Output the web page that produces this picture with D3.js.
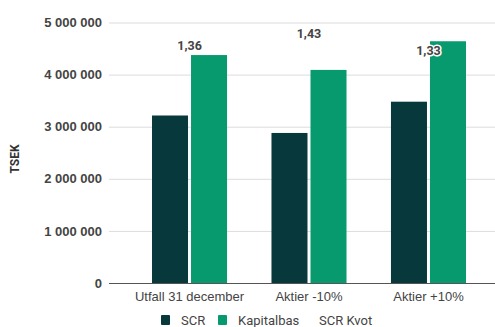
<!DOCTYPE html>
<html>
<head>
<meta charset="utf-8">
<script src="https://cdn.jsdelivr.net/npm/d3@7"></script>
<style>
body{margin:0;background:#fff;}
svg{font-family:Roboto,"Liberation Sans",sans-serif;}
</style>
</head>
<body>
<svg id="chart" width="495" height="327"></svg>
<script>
// data
var categories=["Utfall 31 december","Aktier -10%","Aktier +10%"];
var scr=[3215000,2880000,3480000];
var kapitalbas=[4375000,4090000,4640000];
var kvot=[1.36,1.43,1.33];
var kvotLabels=["1,36","1,43","1,33"];
var yTicks=[0,1000000,2000000,3000000,4000000,5000000];
var seriesNames=["SCR","Kapitalbas","SCR Kvot"];
var colors={SCR:"#07393c",Kapitalbas:"#069a6e"};

var svg=d3.select("#chart");
var plotLeft=109,plotRight=495,plotTop=22.5,plotBottom=283;

//band range runs past the right edge, the last group sits close to it
var x=d3.scaleBand().domain(categories).range([plotLeft,509]).paddingInner(0.372).paddingOuter(0.36);
var xs=d3.scaleBand().domain(["SCR","Kapitalbas"]).range([0,x.bandwidth()]).paddingInner(0.077);
var y=d3.scaleLinear().domain([0,5000000]).range([plotBottom,plotTop]);
var y2=d3.scaleLinear().domain([0,1.52]).range([plotBottom,plotTop]); //hidden axis for kvot

var fmt=function(d){return d3.format(",")(d).replace(/,/g," ");};

// grid + y axis
var yAxis=d3.axisLeft(y).tickValues(yTicks).tickFormat(fmt).tickSize(-(plotRight-plotLeft)).tickPadding(8);
var ga=svg.append("g").attr("transform","translate("+plotLeft+",0)").call(yAxis);
ga.select(".domain").remove();
ga.selectAll(".tick line").attr("stroke","#dcdcdc").attr("stroke-width",1);
ga.selectAll(".tick text").attr("fill","#444").style("font-size","13px").style("font-weight","bold").attr("x",-7);

// bars
var groups=svg.append("g").selectAll("g").data(categories).enter().append("g")
	.attr("transform",function(d){return "translate("+x(d)+",0)";});
groups.append("rect")
	.attr("x",xs("SCR")).attr("width",xs.bandwidth())
	.attr("y",function(d,i){return y(scr[i]);})
	.attr("height",function(d,i){return plotBottom-y(scr[i]);})
	.attr("fill",colors.SCR);
groups.append("rect")
	.attr("x",xs("Kapitalbas")).attr("width",xs.bandwidth())
	.attr("y",function(d,i){return y(kapitalbas[i]);})
	.attr("height",function(d,i){return plotBottom-y(kapitalbas[i]);})
	.attr("fill",colors.Kapitalbas);

// baseline
svg.append("line").attr("x1",plotLeft).attr("x2",plotRight).attr("y1",y(0)+0.5).attr("y2",y(0)+0.5).attr("stroke","#555").attr("stroke-width",1);

// x axis labels
var xAxis=d3.axisBottom(x).tickSize(0).tickPadding(9);
var gx=svg.append("g").attr("transform","translate(0,"+plotBottom+")").call(xAxis);
gx.select(".domain").remove();
gx.selectAll(".tick text").attr("fill","#444").style("font-size","13px");

// kvot labels
svg.append("g").selectAll("text").data(kvot).enter().append("text")
	.attr("x",function(d,i){return x(categories[i])+x.bandwidth()/2;})
	.attr("y",function(d){return y2(d)-4;})
	.attr("dy","0.35em")
	.attr("text-anchor","middle")
	.attr("fill","#444").style("font-size","12.5px").style("font-weight","bold")
	.attr("stroke","#fff").attr("stroke-width",3).attr("paint-order","stroke")
	.text(function(d,i){return kvotLabels[i];});

// y title
svg.append("text").attr("transform","translate(19,159) rotate(-90)")
	.attr("text-anchor","middle").attr("fill","#333")
	.style("font-size","12px").style("font-weight","bold").text("TSEK");

// legend
var legend=svg.append("g").attr("transform","translate(0,320)");
var lx=[161,218,319];
seriesNames.forEach(function(n,i){
	var tx=lx[i];
	if(colors[n]){
		legend.append("rect").attr("x",lx[i]).attr("y",-5).attr("width",9).attr("height",10).attr("rx",1).attr("fill",colors[n]);
		tx=lx[i]+20;
	}
	legend.append("text").attr("x",tx).attr("y",0).attr("dy","0.35em").attr("fill","#444").style("font-size","13px").text(n);
});
</script>
</body>
</html>
